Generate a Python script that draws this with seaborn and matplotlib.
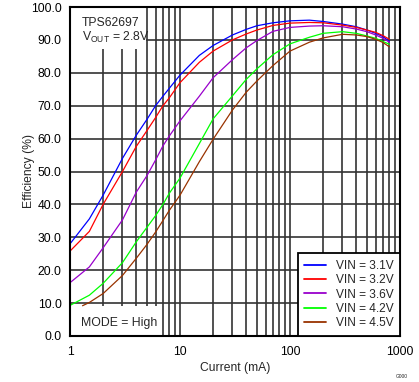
import numpy as np
import pandas as pd
import matplotlib
matplotlib.use("Agg")
import matplotlib.pyplot as plt
from matplotlib.patches import Rectangle
from matplotlib.ticker import FixedLocator, NullFormatter
import seaborn as sns

# ---- data ----
current_ma = [1, 1.5, 2, 3, 4, 5, 6, 7, 8, 10, 15, 20, 30, 40, 50, 70,
              100, 150, 200, 300, 400, 500, 600, 700, 800]
current_ma_45 = [1.3, 1.5, 2, 3, 4, 5, 6, 7, 8, 10, 15, 20, 30, 40, 50, 70,
                 100, 150, 200, 300, 400, 500, 600, 700, 800]

eff_31 = [28.0, 35.6, 42.8, 54.0, 61.0, 65.8, 70.0, 72.9, 75.3, 79.3, 85.3, 88.3,
          91.5, 93.2, 94.3, 95.2, 95.8, 96.0, 95.6, 94.8, 94.0, 93.0, 92.0, 91.0, 89.6]
eff_32 = [25.8, 31.8, 40.0, 50.0, 57.6, 62.4, 66.4, 70.0, 72.4, 77.0, 83.2, 86.6,
          90.0, 91.8, 93.0, 94.4, 95.1, 95.3, 95.2, 94.5, 93.8, 93.0, 92.3, 91.3, 90.2]
eff_36 = [16.2, 21.0, 26.8, 35.3, 43.7, 48.7, 53.5, 57.8, 60.8, 65.4, 72.9, 78.5,
          84.0, 87.6, 89.8, 92.6, 93.8, 94.2, 94.3, 94.0, 93.3, 92.5, 91.5, 90.5, 89.3]
eff_42 = [9.3, 12.4, 16.0, 22.3, 28.6, 33.0, 36.6, 40.0, 43.4, 48.0, 58.5, 66.0,
          73.0, 78.0, 81.2, 85.5, 88.8, 90.8, 92.0, 92.5, 92.0, 91.2, 90.5, 89.5, 88.7]
eff_45 = [9.2, 10.2, 12.9, 18.4, 23.6, 27.8, 31.6, 35.1, 38.2, 42.8, 53.0, 59.8,
          68.7, 74.1, 77.5, 82.2, 86.6, 89.3, 90.6, 91.7, 91.5, 91.0, 90.2, 89.2, 87.9]

series_labels = ["VIN = 3.1V", "VIN = 3.2V", "VIN = 3.6V", "VIN = 4.2V", "VIN = 4.5V"]
series_colors = ["#0000FF", "#FF0000", "#9900CC", "#00FF00", "#993300"]

y_ticks = [0, 10, 20, 30, 40, 50, 60, 70, 80, 90, 100]
x_ticks = [1, 10, 100, 1000]
x_tick_labels = ["1", "10", "100", "1000"]

# ---- long table ----
frames = []
for lab, xs, ys in zip(series_labels,
                       [current_ma, current_ma, current_ma, current_ma, current_ma_45],
                       [eff_31, eff_32, eff_36, eff_42, eff_45]):
    frames.append(pd.DataFrame({"Current": xs, "Efficiency": ys, "Series": lab}))
df = pd.concat(frames, ignore_index=True)

sns.set_style("white")
plt.rcParams["font.family"] = ["Liberation Sans", "DejaVu Sans"]
plt.rcParams["mathtext.fontset"] = "custom"
plt.rcParams["mathtext.rm"] = "Liberation Sans"

fig = plt.figure(figsize=(4.19, 3.82), dpi=100)
ax = fig.add_axes([70 / 419, 1 - 336 / 382, 330 / 419, 329 / 382])

sns.lineplot(data=df, x="Current", y="Efficiency", hue="Series",
             hue_order=series_labels, palette=series_colors, ax=ax,
             linewidth=0.9, sort=True, estimator=None, legend=True, zorder=3)

ax.set_xscale("log")
ax.set_xlim(1, 1000)
ax.set_ylim(0, 100)
ax.xaxis.set_major_locator(FixedLocator(x_ticks))
ax.set_xticklabels(x_tick_labels)
minor = [m * d for d in [1, 10, 100] for m in range(2, 10)]
ax.xaxis.set_minor_locator(FixedLocator(minor))
ax.xaxis.set_minor_formatter(NullFormatter())
ax.set_yticks(y_ticks)
ax.set_yticklabels([f"{v:.1f}" for v in y_ticks])

ax.set_axisbelow(True)
ax.grid(which="both", axis="x", color="#333333", linewidth=1.2)
ax.grid(which="major", axis="y", color="#333333", linewidth=1.2)
ax.tick_params(axis="both", which="both", length=0, labelsize=8.7, colors="black")
ax.tick_params(axis="y", pad=6)
ax.tick_params(axis="x", pad=7)

for s in ax.spines.values():
    s.set_visible(True)
    s.set_color("black")
    s.set_linewidth(1.5)
    s.set_zorder(5)

ax.set_xlabel("Current (mA)", fontsize=8.7, labelpad=3)
ax.set_ylabel("Efficiency (%)", fontsize=8.7)
ax.yaxis.set_label_coords(-0.105, 0.5)

# white label boxes that hide the grid
ax.add_patch(Rectangle((0, 0.872), 0.23, 0.128, transform=ax.transAxes,
                       facecolor="white", edgecolor="none", zorder=1))
ax.add_patch(Rectangle((0, 0), 0.273, 0.091, transform=ax.transAxes,
                       facecolor="white", edgecolor="none", zorder=1))

ax.text(0.036, 0.951, "TPS62697", transform=ax.transAxes, fontsize=8.8,
        ha="left", va="center", zorder=4)
ax.text(0.036, 0.908, r"V$_{\mathregular{OUT}}$ = 2.8V", transform=ax.transAxes,
        fontsize=8.8, ha="left", va="center", zorder=4)
ax.text(0.034, 0.038, "MODE = High", transform=ax.transAxes, fontsize=8.8,
        ha="left", va="center", zorder=4)

leg = ax.legend(loc="lower right", borderaxespad=0, fancybox=False,
                edgecolor="black", framealpha=1, fontsize=8.6,
                handlelength=1.85, handletextpad=0.8, labelspacing=0.2,
                borderpad=0.55, title=None)
leg.get_frame().set_linewidth(1.3)
leg.set_zorder(6)
for h in leg.get_lines():
    h.set_linewidth(1.3)

fig.text(402 / 419, 1 - 376 / 382, "G000", fontsize=3.5, ha="center", va="center")

fig.savefig("out.png", dpi=100)
